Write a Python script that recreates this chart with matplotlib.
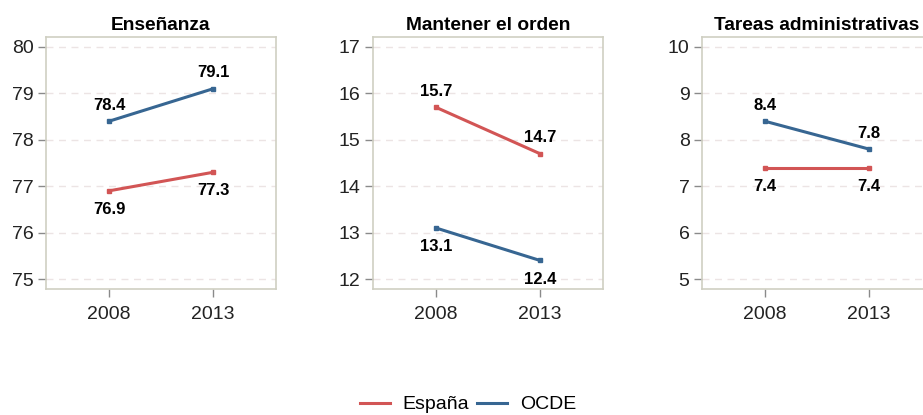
import matplotlib

matplotlib.use("Agg")
import matplotlib.pyplot as plt
from matplotlib.lines import Line2D

plt.rcParams["font.family"] = ["Liberation Sans", "DejaVu Sans"]

years = ["2008", "2013"]
titles = ["Enseñanza", "Mantener el orden", "Tareas administrativas"]
espana = [[76.9, 77.3], [15.7, 14.7], [7.4, 7.4]]
ocde = [[78.4, 79.1], [13.1, 12.4], [8.4, 7.8]]
y_ranges = [(75, 80), (12, 17), (5, 10)]

RED = "#d25555"
BLUE = "#376692"
SPINE = "#cfcfc2"

fig = plt.figure(figsize=(9.23, 4.15), dpi=100)
lefts = [46 / 923, 373 / 923, 702 / 923]
xs = [1, 2]

for i, left in enumerate(lefts):
    ax = fig.add_axes([left, 0.3036, 230 / 923, 0.6072])
    lo, hi = y_ranges[i]
    ax.set_ylim(lo - 0.215, hi + 0.215)
    ax.set_xlim(0.395, 2.605)
    ax.set_yticks(range(lo, hi + 1))
    ax.set_xticks(xs)
    ax.set_xticklabels(years)
    ax.yaxis.grid(True, linestyle=(0, (5, 4)), color="#ece4e4", linewidth=1)
    ax.set_axisbelow(True)
    for s in ax.spines.values():
        s.set_color(SPINE)
        s.set_linewidth(1.2)
    ax.tick_params(axis="both", colors="#8a8a8a", length=6, width=1,
                   labelsize=14, labelcolor="#222222")
    ax.tick_params(axis="x", pad=6)
    ax.tick_params(axis="y", pad=3)
    ax.set_title(titles[i], fontsize=13.8, fontweight="bold", pad=5)

    for vals, col in ((espana[i], RED), (ocde[i], BLUE)):
        ax.plot(xs, vals, color=col, linewidth=2.2, marker="s", markersize=2.5,
                solid_capstyle="butt")
        other = ocde[i] if vals is espana[i] else espana[i]
        for x, v, o in zip(xs, vals, other):
            above = v >= o
            ax.annotate(f"{v:.1f}", (x, v),
                        xytext=(0, 6 if above else -8), textcoords="offset points",
                        ha="center", va="bottom" if above else "top",
                        fontsize=12, fontweight="bold")

handles = [Line2D([], [], color=RED, linewidth=2.2),
           Line2D([], [], color=BLUE, linewidth=2.2)]
fig.legend(handles, ["España", "OCDE"], loc="center", bbox_to_anchor=(0.507, 0.025),
           ncol=2, frameon=False, fontsize=14, handlelength=1.55,
           handletextpad=0.65, columnspacing=0.4)

fig.savefig("out.png", dpi=100)
